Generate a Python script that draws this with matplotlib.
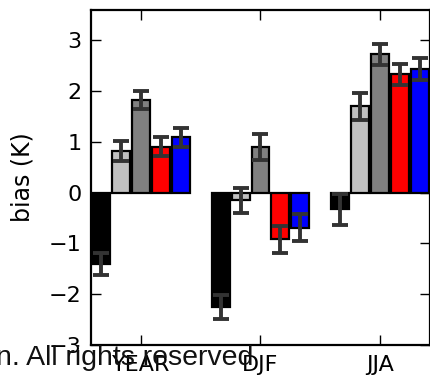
import numpy as np
import matplotlib
matplotlib.use("Agg")
import matplotlib.pyplot as plt

# seasons and the five runs (colour order as in the original)
seasons = ['YEAR', 'DJF', 'JJA']
colors = ['black', '#c0c0c0', '#808080', 'red', 'blue']

# bias per run, rows = runs, columns = seasons
bias = [
    [-1.40, -2.25, -0.33],
    [0.82, -0.15, 1.70],
    [1.82, 0.90, 2.73],
    [0.91, -0.92, 2.33],
    [1.09, -0.69, 2.44],
]
# half-width of the error bars
err = [
    [0.22, 0.23, 0.30],
    [0.20, 0.24, 0.27],
    [0.18, 0.26, 0.21],
    [0.19, 0.27, 0.21],
    [0.18, 0.27, 0.21],
]

fig = plt.figure(figsize=(4.31, 3.78), dpi=100)
ax = fig.add_axes([91 / 431, 33 / 378, 339 / 431, 335 / 378])

x = np.arange(len(seasons))
step = 1 / 6.0
for i in range(len(colors)):
    ax.bar(x + (i - 2) * step, bias[i], width=0.15, color=colors[i],
           edgecolor='black', linewidth=1.6, zorder=2)
    ax.errorbar(x + (i - 2) * step, bias[i], yerr=err[i], fmt='none',
                ecolor='#333333', elinewidth=2.8, capsize=5.5, capthick=2.8, zorder=3)

ax.set_xlim(-2.5 * step, 2 + 2.5 * step)
ax.set_ylim(-3, 3.6)
ax.set_xticks(x)
ax.set_xticklabels(seasons)
ax.set_yticks([-3, -2, -1, 0, 1, 2, 3])
ax.set_yticklabels(['\u22123', '\u22122', '\u22121', '0', '1', '2', '3'])
ax.tick_params(direction='in', length=7, width=1, top=True, right=True,
               labelsize=16, pad=7)
for s in ax.spines.values():
    s.set_linewidth(1.6)
ax.set_ylabel('bias (K)', fontsize=17, labelpad=10)

# clipped copyright line from the source image
fig.text(253 / 431, 13 / 378, 'n. All rights reserved', ha='right', va='baseline',
         fontsize=20.5, family='Liberation Sans', color='#111111')

fig.savefig('out.png', dpi=100)
